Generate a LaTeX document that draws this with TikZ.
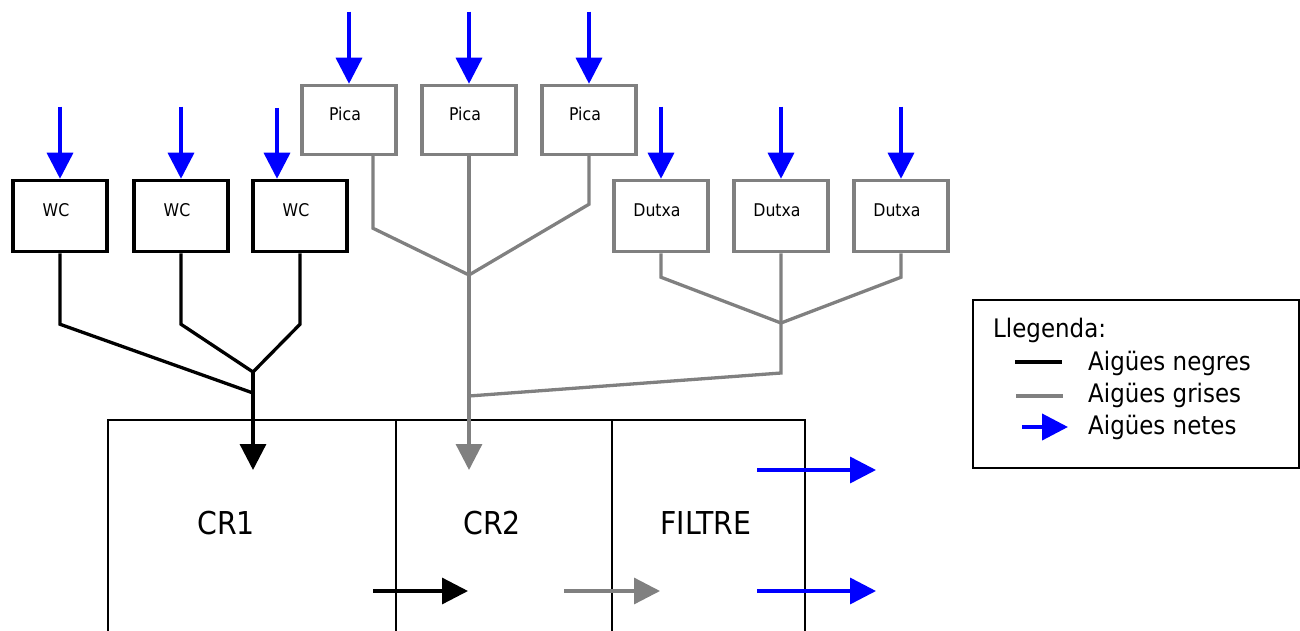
\documentclass[tikz,border=0pt]{standalone}
\usepackage{fontspec}
\setmainfont{DejaVu Sans Condensed}
\usetikzlibrary{arrows.meta}
\definecolor{aiguagris}{RGB}{128,128,128}
\definecolor{aiguaneta}{RGB}{0,0,255}
\tikzset{
  caixa/.style={draw, line width=3.5pt, minimum width=94pt, minimum height=71pt, inner sep=0pt},
  rotul/.style={label={[font=\fontsize{17.5}{20}\selectfont, xshift=-4pt, yshift=6pt]center:#1}},
  cel/.style={draw, line width=1.3pt, minimum height=300pt, inner sep=0pt, outer sep=0pt, anchor=north west},
  titol/.style={font=\fontsize{31.5}{36}\selectfont, inner sep=0pt},
  lleg/.style={font=\fontsize{25.5}{29}\selectfont, inner sep=0pt, anchor=base west},
  punta/.style={-{Triangle[length=26pt,width=26pt]}},
  negra/.style={line width=3.3pt, black},
  grisa/.style={line width=3.3pt, aiguagris},
  neta/.style={line width=3.5pt, aiguaneta, punta},
}

\begin{document}
\begin{tikzpicture}[x=1pt,y=-1pt]
\useasboundingbox (0,0) rectangle (1300,631);
\clip (0,0) rectangle (1300,631);

% aparells
\foreach \i/\x in {1/60,2/181,3/300}
  \node[caixa, rotul=WC] (wc\i) at (\x,216) {};
\foreach \i/\x in {1/349,2/469,3/589}
  \node[caixa, draw=aiguagris, minimum height=69pt, rotul=Pica] (pica\i) at (\x,120) {};
\foreach \i/\x in {1/661,2/781,3/901}
  \node[caixa, draw=aiguagris, rotul=Dutxa] (dutxa\i) at (\x,216) {};

% aigua neta d'entrada
\foreach \i in {1,2}
  \draw[neta] ([yshift=72pt]wc\i.north) -- (wc\i.north);
\coordinate (swc3) at (277,108);
\draw[neta] (swc3) -- (swc3 |- wc3.north);
\foreach \i in {1,2,3}{
  \draw[neta] ([yshift=72pt]pica\i.north) -- (pica\i.north);
  \draw[neta] ([yshift=72pt]dutxa\i.north) -- (dutxa\i.north);
}

% diposits
\node[cel, minimum width=288pt] (cr1) at (108,420) {};
\node[cel, minimum width=216pt] (cr2) at (cr1.north east) {};
\node[cel, minimum width=193pt] (filtre) at (cr2.north east) {};
\node[titol] (tcr1) at (226,523) {CR1};
\node[titol] (tcr2) at (492,523) {CR2};
\node[titol] (tfiltre) at (706,523) {FILTRE};

% aigues negres
\coordinate (jn) at (253,372);
\coordinate (in1) at (253,470);
\draw[negra] (wc1.south) -- ++(0,71) -- (253,393);
\draw[negra] (wc2.south) -- ++(0,71) -- (jn);
\draw[negra] (wc3.south) -- ++(0,71) -- (jn);
\draw[negra, punta] (jn) -- (in1);

% aigues grises
\coordinate (jp) at (469,275);
\coordinate (jd) at (781,323);
\coordinate (in2) at (469,470);
\draw[grisa] ([xshift=24pt]pica1.south) -- ++(0,72) -- (jp);
\draw[grisa] (pica3.south) -- ++(0,48) -- (jp);
\draw[grisa, punta] (pica2.south) -- (in2);
\draw[grisa] (dutxa1.south) -- ++(0,24) -- (jd);
\draw[grisa] (dutxa3.south) -- ++(0,24) -- (jd);
\draw[grisa] (dutxa2.south) -- (781,373) -- (469,396);

% sortides
\draw[negra, punta] (373,591) -- (468,591);
\draw[grisa, punta] (564,591) -- (660,591);
\draw[neta] (757,470) -- (876,470);
\draw[neta] (757,591) -- (876,591);

% llegenda
\node[draw, line width=2pt, minimum width=326pt, minimum height=168pt, inner sep=0pt, outer sep=0pt, anchor=north west] (llegenda) at (973,300) {};
\node[lleg] (tll) at (993,337) {Llegenda:};
\draw[negra, line width=4.5pt] (1015,362) -- (1062,362);
\draw[grisa, line width=4.5pt] (1016,396) -- (1063,396);
\draw[neta, line width=4pt] (1022,427) -- (1068,427);
\node[lleg] (tneg) at (1088,370) {Aigües negres};
\node[lleg] (tgri) at (1088,402) {Aigües grises};
\node[lleg] (tnet) at (1088,434) {Aigües netes};
\end{tikzpicture}
\end{document}
